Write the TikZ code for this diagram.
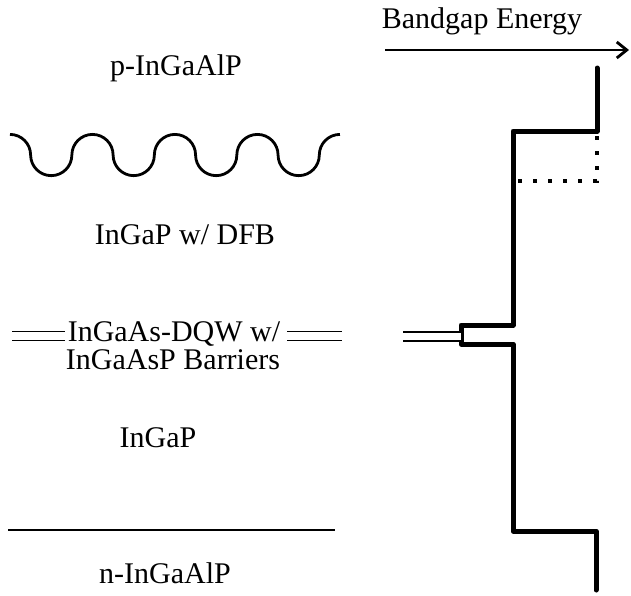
\documentclass[tikz,border=0pt]{standalone}
\usepackage{fontspec}
\setmainfont{Liberation Serif}
\usetikzlibrary{arrows.meta}
\tikzset{
  >={Straight Barb[length=5pt, width=8pt]},
  every node/.style={font=\fontsize{15}{17}\selectfont, inner sep=0pt, anchor=base},
  band/.style={line width=2.5pt, line join=round, line cap=round},
  ln/.style={line width=1.4pt},
  qw/.style={double, line width=0.9pt, double distance=3.6pt},
  dots/.style={line width=2pt, dash pattern=on 2pt off 5.5pt},
}

\begin{document}
\begin{tikzpicture}[x=0.5pt, y=-0.5pt]
\useasboundingbox (0,0) rectangle (631,595);

% ---------------------------------------------------------------- energy axis
\coordinate (e0) at (385,50);
\coordinate (e1) at (629,50);
\draw[->, ln] (e0) -- (e1);
\node (energy) at (482,28) {Bandgap Energy};

% ---------------------------------------------------------------- layer stack
\node (pclad) at (176,75) {p-InGaAlP};
\draw[ln] (10,134.4) arc(90:0:10.31pt)
  \foreach \k in {1,2,3} {arc(180:360:10.31pt) arc(180:0:10.31pt)}
  arc(180:360:10.31pt) arc(180:90:10.31pt);
\node (dfb) at (185,244) {InGaP w/ DFB};
\node (dqwa) at (174,341) {InGaAs-DQW w/};
\node (dqwb) at (173,369) {InGaAsP Barriers};
\draw[qw] (12,336) -- (65,336);
\draw[qw] (287,336) -- (342,336);
\node (core) at (158,447) {InGaP};
\draw[ln] (8,530) -- (335,530);
\node (nclad) at (165,583) {n-InGaAlP};

% ---------------------------------------------------------------- band edge
\draw[band] (597,68) -- (597,131) -- (513,131) -- (513,325) -- (461,325)
  -- (461,344) -- (513,344) -- (513,531) -- (596,531) -- (596,590);
\draw[dots] (597,136) -- (597,181) -- (513,181);
\draw[qw] (403,336.5) -- (461,336.5);

\end{tikzpicture}
\end{document}
